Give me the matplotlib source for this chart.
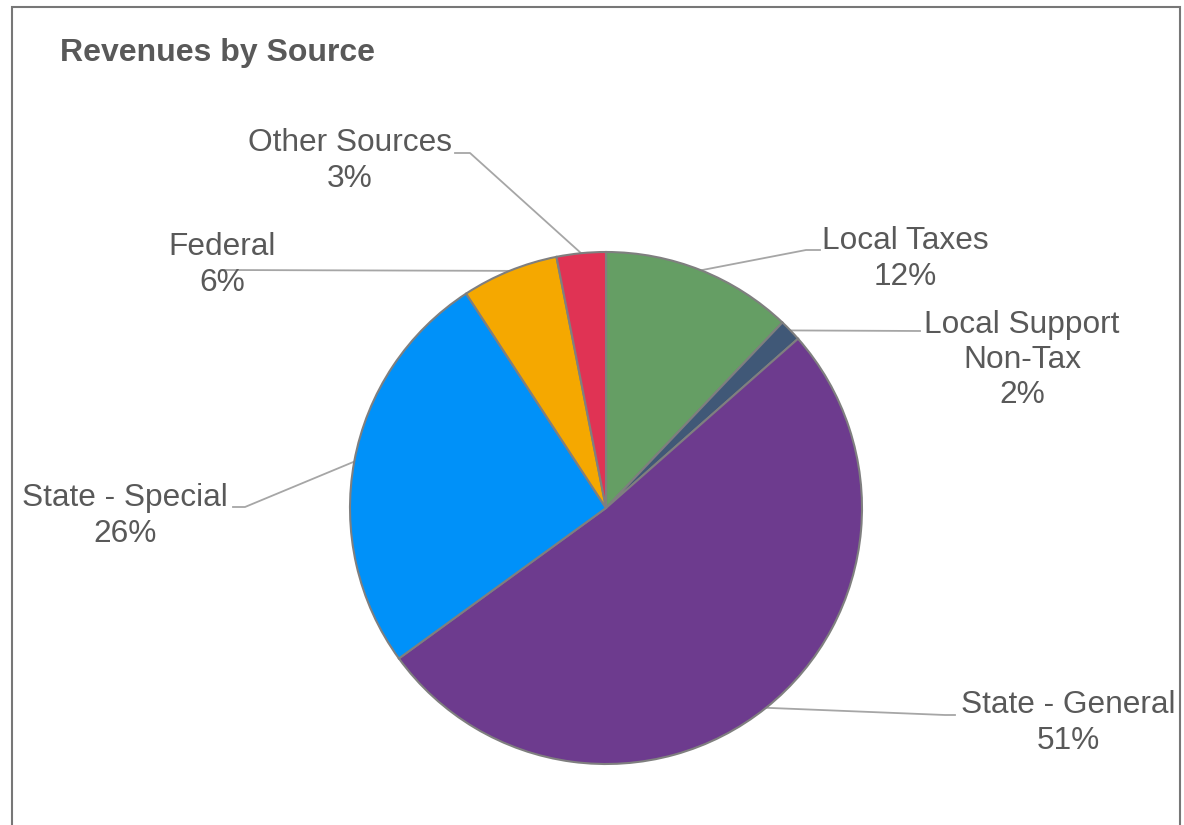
import numpy as np
import matplotlib.pyplot as plt
from matplotlib.patches import Rectangle

plt.rcParams['font.family'] = ['Liberation Sans', 'DejaVu Sans']

labels = ['Local Taxes', 'Local Support\nNon-Tax', 'State - General',
          'State - Special', 'Federal', 'Other Sources']
values = [12.1, 1.4, 51.5, 25.8, 6.1, 3.1]
pct_text = ['12%', '2%', '51%', '26%', '6%', '3%']
colors = ['#659E64', '#405877', '#6D3B8E', '#0091F9', '#F5A800', '#E03354']

W, H = 1184, 825
fig = plt.figure(figsize=(W / 100, H / 100), dpi=100)
ax = fig.add_axes([0, 0, 1, 1])

def py(y):
    return H - y

cx, cy, r = 606, py(508), 256
wedges, _ = ax.pie(values, colors=colors, startangle=90, counterclock=False,
                   center=(cx, cy), radius=r, frame=True,
                   wedgeprops=dict(edgecolor='#7f7f7f', linewidth=1.5))
ax.set_xlim(0, W)
ax.set_ylim(0, H)
ax.axis('off')

# label layout: text centre, elbow point, end of leader (pixel coords)
text_pos = [(905, 259), (1022, 360), (1068, 723), (125, 516), (222, 265), (350, 161)]
elbows = [(806, 250), None, (945, 715), (245, 507), None, (470, 153)]
ends = [(820, 250), (920, 331), (955, 715), (233, 507), (225, 270), (455, 153)]

for w, lab, pct, tp, el, en in zip(wedges, labels, pct_text, text_pos, elbows, ends):
    ang = np.deg2rad((w.theta1 + w.theta2) / 2)
    sx, sy = cx + r * np.cos(ang), cy + r * np.sin(ang)
    xs, ys = [sx], [sy]
    if el is not None:
        xs.append(el[0]); ys.append(py(el[1]))
    xs.append(en[0]); ys.append(py(en[1]))
    ax.plot(xs, ys, color='#a6a6a6', lw=1.3, zorder=0)
    ax.text(tp[0], py(tp[1]), lab + '\n' + pct, ha='center', va='center',
            fontsize=22.8, color='#595959', linespacing=1.22)

ax.text(60, py(53), 'Revenues by Source', ha='left', va='center',
        fontsize=23, fontweight='bold', color='#595959')

ax.add_patch(Rectangle((12, py(900)), 1168, 893, fill=False,
                       edgecolor='#777777', lw=1.5, clip_on=False))

fig.savefig('out.png', dpi=100)
